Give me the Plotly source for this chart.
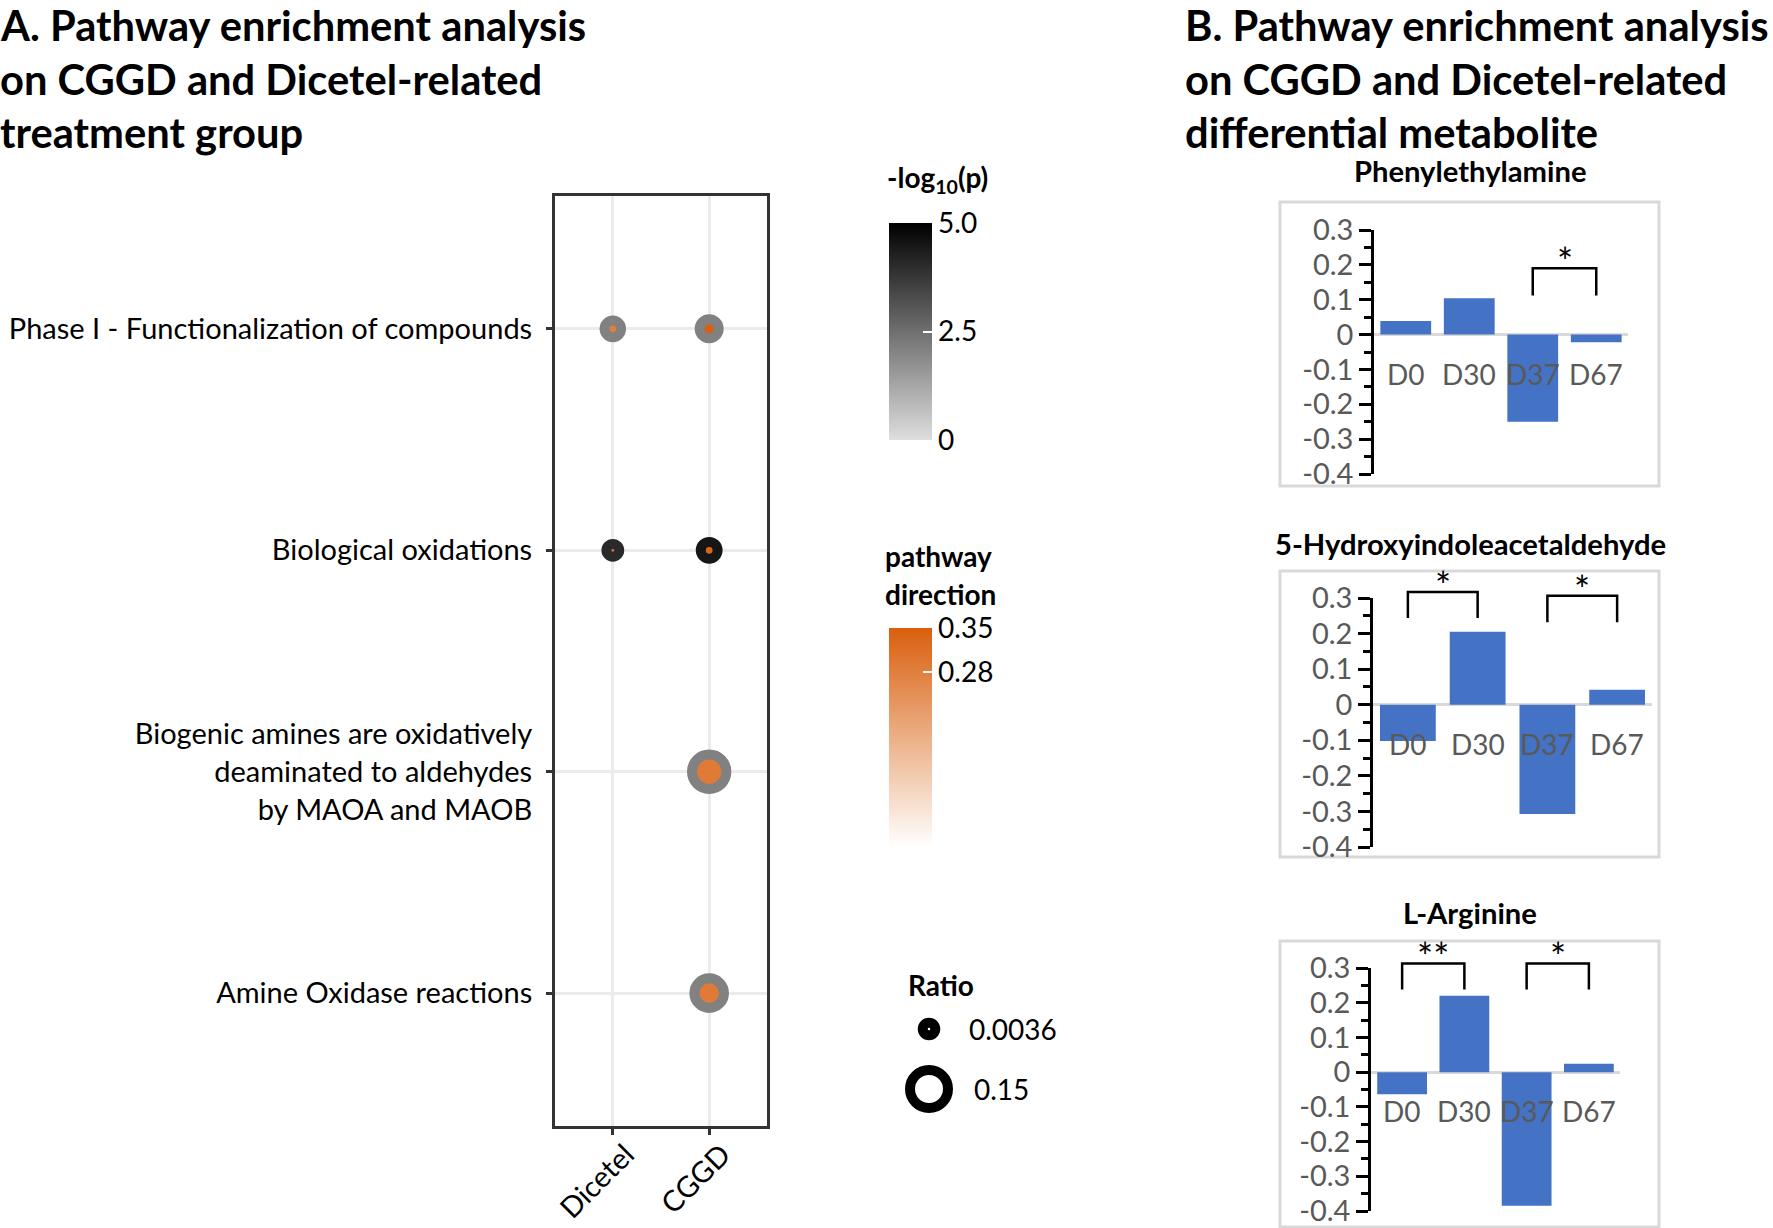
import math
import plotly.graph_objects as go

W, H = 1773, 1228
FONT = "Lato"

# ---------------- Panel A data ----------------
pathways = [
    "Phase I - Functionalization of compounds",
    "Biological oxidations",
    "Biogenic amines are oxidatively<br>deaminated to aldehydes<br>by MAOA and MAOB",
    "Amine Oxidase reactions",
]
groups = ["Dicetel", "CGGD"]
point_group = ["Dicetel", "CGGD", "Dicetel", "CGGD", "CGGD", "CGGD"]
point_pathway_idx = [0, 0, 1, 1, 2, 3]
neg_log10_p = [2.1, 2.1, 4.05, 4.5, 2.1, 2.1]
direction = [0.28, 0.35, 0.30, 0.335, 0.29, 0.29]
ratio = [0.017, 0.027, 0.0045, 0.018, 0.12, 0.085]

ratio_breaks = [0.0036, 0.15]
ratio_labels = ["0.0036", "0.15"]
logp_ticks = [0, 2.5, 5.0]
logp_ticklabels = ["0", "2.5", "5.0"]
dir_ticks = [0.28, 0.35]
dir_ticklabels = ["0.28", "0.35"]

# ---------------- Panel B data ----------------
days = ["D0", "D30", "D37", "D67"]
metabolites = ["Phenylethylamine", "5-Hydroxyindoleacetaldehyde", "L-Arginine"]
phenylethylamine = [0.039, 0.104, -0.25, -0.022]
hydroxyindoleacetaldehyde = [-0.102, 0.205, -0.307, 0.042]
l_arginine = [-0.064, 0.22, -0.385, 0.024]
bar_ticks = [-0.4, -0.3, -0.2, -0.1, 0, 0.1, 0.2, 0.3]
# significance brackets: (from, to, bracket top, leg bottom, label)
phenylethylamine_sig = [("D37", "D67", 0.19, 0.112, "*")]
hydroxyindoleacetaldehyde_sig = [("D0", "D30", 0.317, 0.244, "*"), ("D37", "D67", 0.306, 0.232, "*")]
l_arginine_sig = [("D0", "D30", 0.313, 0.238, "**"), ("D37", "D67", 0.313, 0.238, "*")]


def fx(px):
    return px / W


def fy(py):
    return 1 - py / H


# size scale (area-linear between the legend breaks)
R_MIN, R_MAX = ratio_breaks[0], ratio_breaks[-1]
S_MIN, S_MAX = 12.5, 38.0
STROKE = 10


def size_scale(r):
    return math.sqrt(S_MIN ** 2 + (S_MAX ** 2 - S_MIN ** 2) * (r - R_MIN) / (R_MAX - R_MIN))


fig = go.Figure()
annotations = []
shapes = []
layout = {}

# ---------------- Panel A: dot plot ----------------
fig.add_trace(go.Scatter(
    x=point_group,
    y=[pathways[i] for i in point_pathway_idx],
    mode="markers",
    marker=dict(
        size=[size_scale(r) for r in ratio],
        color=direction, coloraxis="coloraxis2",
        line=dict(color=neg_log10_p, coloraxis="coloraxis", width=STROKE),
        opacity=1,
    ),
    xaxis="x", yaxis="y", cliponaxis=False, showlegend=False, hoverinfo="skip",
))

axis_common = dict(
    showgrid=True, gridcolor="#ebebeb", gridwidth=3,
    showline=True, linecolor="#333333", linewidth=3, mirror=True,
    ticks="outside", ticklen=6, tickwidth=3, tickcolor="#333333",
    zeroline=False, tickfont=dict(family=FONT, size=29, color="#000000"),
)
layout["xaxis"] = dict(domain=[fx(555), fx(767)], type="category", categoryorder="array",
                       categoryarray=groups, range=[-0.6, 1.6], tickangle=-45, anchor="y",
                       ticklabelshift=13, ticklabelstandoff=-9, **axis_common)
layout["yaxis"] = dict(domain=[fy(1126), fy(196)], type="category", categoryorder="array",
                       categoryarray=pathways, range=[3.6, -0.6], anchor="x",
                       ticklabelstandoff=8, **axis_common)

layout["coloraxis"] = dict(
    colorscale=[[0, "#dedede"], [1, "#000000"]], cmin=0, cmax=5,
    colorbar=dict(x=fx(889), xanchor="left", y=fy(223), yanchor="top",
                  len=217, lenmode="pixels", thickness=43, thicknessmode="pixels",
                  tickvals=logp_ticks, ticktext=logp_ticklabels, ticks="inside",
                  ticklen=9, tickwidth=2, tickcolor="white", outlinewidth=0,
                  xpad=0, ypad=0, tickfont=dict(family=FONT, size=28, color="black")),
)
layout["coloraxis2"] = dict(
    colorscale=[[0, "#ffffff"], [1, "#d95f0e"]], cmin=0, cmax=0.35,
    colorbar=dict(x=fx(889), xanchor="left", y=fy(628), yanchor="top",
                  len=219, lenmode="pixels", thickness=43, thicknessmode="pixels",
                  tickvals=dir_ticks, ticktext=dir_ticklabels, ticks="inside",
                  ticklen=9, tickwidth=2, tickcolor="white", outlinewidth=0,
                  xpad=0, ypad=0, tickfont=dict(family=FONT, size=28, color="black")),
)

# Ratio legend (hidden axis)
layout["xaxis5"] = dict(domain=[fx(909), fx(949)], range=[-0.5, 0.5], visible=False, anchor="y8")
layout["yaxis8"] = dict(domain=[fy(1109), fy(1009)], range=[len(ratio_breaks) - 1 + 1 / 3, -1 / 3],
                        visible=False, anchor="x5")
fig.add_trace(go.Scatter(
    x=[0] * len(ratio_breaks), y=list(range(len(ratio_breaks))), mode="markers",
    marker=dict(size=[size_scale(r) for r in ratio_breaks], color="white", opacity=1,
                line=dict(color="black", width=STROKE)),
    xaxis="x5", yaxis="y8", cliponaxis=False, showlegend=False, hoverinfo="skip",
))
for i, (lab, shift) in enumerate(zip(ratio_labels, [18, 23])):
    annotations.append(dict(x=0.5, y=i, xref="x5", yref="y8", text=lab, showarrow=False,
                            xanchor="left", xshift=shift,
                            font=dict(family=FONT, size=28, color="black")))

# legend titles
annotations.append(dict(x=fx(885), y=fy(179), xref="paper", yref="paper",
                        text="<b>-log<sub>10</sub>(p)</b>", showarrow=False, xanchor="left",
                        yanchor="middle", font=dict(family=FONT, size=28, color="black")))
for txt, yy in [("pathway", 556), ("direction", 594)]:
    annotations.append(dict(x=fx(883), y=fy(yy), xref="paper", yref="paper",
                            text=f"<b>{txt}</b>", showarrow=False, xanchor="left",
                            yanchor="middle", font=dict(family=FONT, size=28, color="black")))
annotations.append(dict(x=fx(906), y=fy(985), xref="paper", yref="paper",
                        text="<b>Ratio</b>", showarrow=False, xanchor="left",
                        yanchor="middle", font=dict(family=FONT, size=28, color="black")))

# panel titles
titleA = ["A. Pathway enrichment analysis", "on CGGD and Dicetel-related", "treatment group"]
titleB = ["B. Pathway enrichment analysis", "on CGGD and Dicetel-related", "differential metabolite"]
for lines, x0 in [(titleA, -2), (titleB, 1183)]:
    for txt, yy in zip(lines, [25, 79, 132]):
        annotations.append(dict(x=fx(x0), y=fy(yy), xref="paper", yref="paper",
                                text=f"<b>{txt}</b>", showarrow=False, xanchor="left",
                                yanchor="middle", font=dict(family=FONT, size=41.7, color="black")))

# ---------------- Panel B: bar charts ----------------
geo = [
    dict(t=230, b=474, l=1374, r=1628, box=(1280, 202, 1659, 486), ty=171),
    dict(t=598, b=847, l=1373, r=1652, box=(1280, 571, 1659, 857), ty=543),
    dict(t=968, b=1211, l=1371, r=1620, box=(1280, 941, 1659, 1227), ty=912),
]
series = [phenylethylamine, hydroxyindoleacetaldehyde, l_arginine]
sigs = [phenylethylamine_sig, hydroxyindoleacetaldehyde_sig, l_arginine_sig]
minor_vals = [(bar_ticks[i] + bar_ticks[i + 1]) / 2 for i in range(len(bar_ticks) - 1)]

for k, (name, vals, sig, g) in enumerate(zip(metabolites, series, sigs, geo)):
    xa, ya, yb = f"x{k + 2}", f"y{k + 2}", f"y{k + 5}"
    fig.add_trace(go.Bar(x=days, y=vals, marker=dict(color="#4472C4", line=dict(width=0)),
                         xaxis=xa, yaxis=ya, showlegend=False, hoverinfo="skip"))
    lo, hi = bar_ticks[0], bar_ticks[-1]
    y0d, y1d = fy(g["b"]), fy(g["t"])
    pxu = (g["b"] - g["t"]) / (hi - lo)
    ext = 80
    layout[f"xaxis{k + 2}"] = dict(
        domain=[fx(g["l"]), fx(g["r"])], anchor=ya,
        type="category", categoryorder="array", categoryarray=days, range=[-0.5, 3.5],
        showline=False, ticks="", showgrid=False, zeroline=False, showticklabels=False,
    )
    layout[f"yaxis{k + 2}"] = dict(
        domain=[y0d, y1d], anchor=xa, range=[lo, hi],
        tickmode="array", tickvals=bar_ticks, ticktext=[f"{v:g}" for v in bar_ticks],
        showline=True, linecolor="black", linewidth=2.5,
        ticks="outside", ticklen=12, tickwidth=2.5, tickcolor="black",
        minor=dict(tickmode="array", tickvals=minor_vals, ticks="outside", ticklen=7,
                   tickwidth=2.5, tickcolor="black", showgrid=False),
        showgrid=False, zeroline=True, zerolinecolor="#d9d9d9", zerolinewidth=3,
        tickfont=dict(family=FONT, size=29, color="#595959"), ticklabelstandoff=0,
    )
    layout[f"yaxis{k + 5}"] = dict(domain=[y0d, fy(g["t"] - ext)], anchor=xa,
                                   range=[lo, hi + ext / pxu], visible=False)
    # category labels sitting just below the zero line
    for d in days:
        annotations.append(dict(x=d, y=0, xref=xa, yref=ya, text=d, showarrow=False,
                                yanchor="top", yshift=-20,
                                font=dict(family=FONT, size=28, color="#595959")))
    for (a, b, top, bot, lab) in sig:
        fig.add_trace(go.Scatter(x=[a, a, b, b], y=[bot, top, top, bot], mode="lines",
                                 line=dict(color="black", width=2.5),
                                 xaxis=xa, yaxis=yb, showlegend=False, hoverinfo="skip"))
        mid = (days.index(a) + days.index(b)) / 2
        annotations.append(dict(x=mid, y=top, xref=xa, yref=yb, text=lab, showarrow=False,
                                yanchor="bottom", yshift=-18,
                                font=dict(family=FONT, size=38, color="black")))
    bx0, by0, bx1, by1 = g["box"]
    shapes.append(dict(type="rect", xref="paper", yref="paper", x0=fx(bx0), x1=fx(bx1),
                       y0=fy(by1), y1=fy(by0), line=dict(color="#d9d9d9", width=3),
                       fillcolor="rgba(0,0,0,0)", layer="below"))
    annotations.append(dict(x=fx(1470), y=fy(g["ty"]), xref="paper", yref="paper",
                            text=f"<b>{name}</b>", showarrow=False, xanchor="center",
                            yanchor="middle", font=dict(family=FONT, size=29.2, color="black")))

fig.update_layout(
    width=W, height=H, autosize=False,
    margin=dict(l=0, r=0, t=0, b=0, pad=0, autoexpand=False),
    paper_bgcolor="white", plot_bgcolor="rgba(0,0,0,0)",
    font=dict(family=FONT, color="black"),
    bargap=0.2,
    annotations=annotations, shapes=shapes,
    **layout,
)

fig.write_html("out.html", config={"displayModeBar": False},
               post_script="document.body.style.margin='0px';")
